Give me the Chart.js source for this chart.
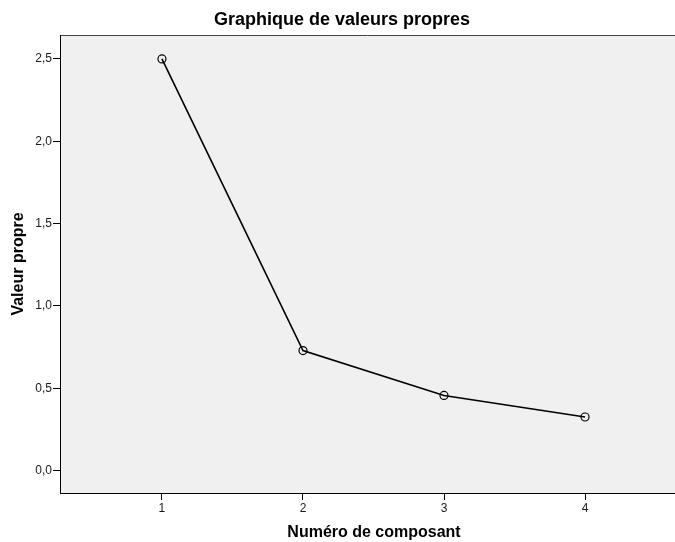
<!DOCTYPE html>
<html>
<head>
<meta charset="utf-8">
<script src="https://cdn.jsdelivr.net/npm/chart.js@4/dist/chart.umd.min.js"></script>
<style>
  html, body { margin: 0; padding: 0; background: #fff; overflow: hidden; }
</style>
</head>
<body>
<canvas id="scree" width="675" height="542"></canvas>
<script>
// scree plot data
var components = [1, 2, 3, 4];
var eigenvalues = [2.50, 0.729, 0.457, 0.326];
var yTicks = [0, 0.5, 1.0, 1.5, 2.0, 2.5];

var fontFamily = "Arial, 'Liberation Sans', sans-serif";
var axisFont = { family: fontFamily, size: 12 };
var titleFont = { family: fontFamily, size: 16, weight: "bold" };

// grey plot background, frame, chart title and x axis title
// (the plot runs on past the right edge, so the titles sit right of the visible centre)
var plotFrame = {
    id: "plotFrame",
    beforeDraw: function (chart) {
        var a = chart.chartArea, c = chart.ctx;
        c.save();
        c.fillStyle = "#f0f0f0";
        c.fillRect(a.left, a.top, a.right - a.left, a.bottom - a.top);
        c.strokeStyle = "#444";
        c.lineWidth = 1;
        c.beginPath();
        c.moveTo(a.left, a.top + 0.5);
        c.lineTo(a.right, a.top + 0.5);
        c.stroke();
        c.restore();
    },
    afterDraw: function (chart) {
        var c = chart.ctx;
        c.save();
        c.fillStyle = "#000";
        c.textAlign = "center";
        c.textBaseline = "middle";
        c.font = "bold 18px " + fontFamily;
        c.fillText("Graphique de valeurs propres", 342, 20);
        c.font = "bold 16px " + fontFamily;
        c.fillText("Numéro de composant", 374, 533);
        c.restore();
    }
};

var ctx = document.getElementById("scree").getContext("2d");

new Chart(ctx, {
    type: "line",
    data: {
        datasets: [{
            data: components.map(function (c, i) { return { x: c, y: eigenvalues[i] }; }),
            borderColor: "#000",
            borderWidth: 1.6,
            tension: 0,
            pointRadius: 4,
            pointHoverRadius: 4,
            pointBackgroundColor: "rgba(0,0,0,0)",
            pointBorderColor: "#000",
            pointBorderWidth: 1.2,
            clip: false
        }]
    },
    options: {
        responsive: false,
        animation: false,
        devicePixelRatio: 1,
        layout: {
            autoPadding: false,
            padding: { top: 35, right: 0, bottom: 0, left: 0 }
        },
        plugins: {
            legend: { display: false },
            tooltip: { enabled: false },
            title: { display: false }
        },
        scales: {
            x: {
                type: "linear",
                min: 0.277,
                max: 4.638,
                afterBuildTicks: function (s) {
                    s.ticks = components.map(function (v) { return { value: v }; });
                },
                afterFit: function (s) { s.height = 49; },
                grid: {
                    display: true,
                    drawOnChartArea: false,
                    drawTicks: true,
                    tickLength: 7,
                    color: "#000"
                },
                border: { display: true, color: "#000", width: 1 },
                ticks: {
                    color: "#1a1a1a",
                    font: axisFont,
                    padding: 1,
                    maxRotation: 0,
                    callback: function (v) { return String(v); }
                },
                title: { display: false }
            },
            y: {
                type: "linear",
                min: -0.1354,
                max: 2.645,
                afterBuildTicks: function (s) {
                    s.ticks = yTicks.map(function (v) { return { value: v }; });
                },
                afterFit: function (s) { s.width = 60; },
                grid: {
                    display: true,
                    drawOnChartArea: false,
                    drawTicks: true,
                    tickLength: 7,
                    color: "#000"
                },
                border: { display: true, color: "#000", width: 1 },
                ticks: {
                    color: "#1a1a1a",
                    font: axisFont,
                    padding: 1,
                    callback: function (v) { return v.toFixed(1).replace(".", ","); }
                },
                title: {
                    display: true,
                    text: "Valeur propre",
                    color: "#000",
                    font: titleFont,
                    padding: { top: 9, bottom: 0 }
                }
            }
        }
    },
    plugins: [plotFrame]
});
</script>
</body>
</html>
